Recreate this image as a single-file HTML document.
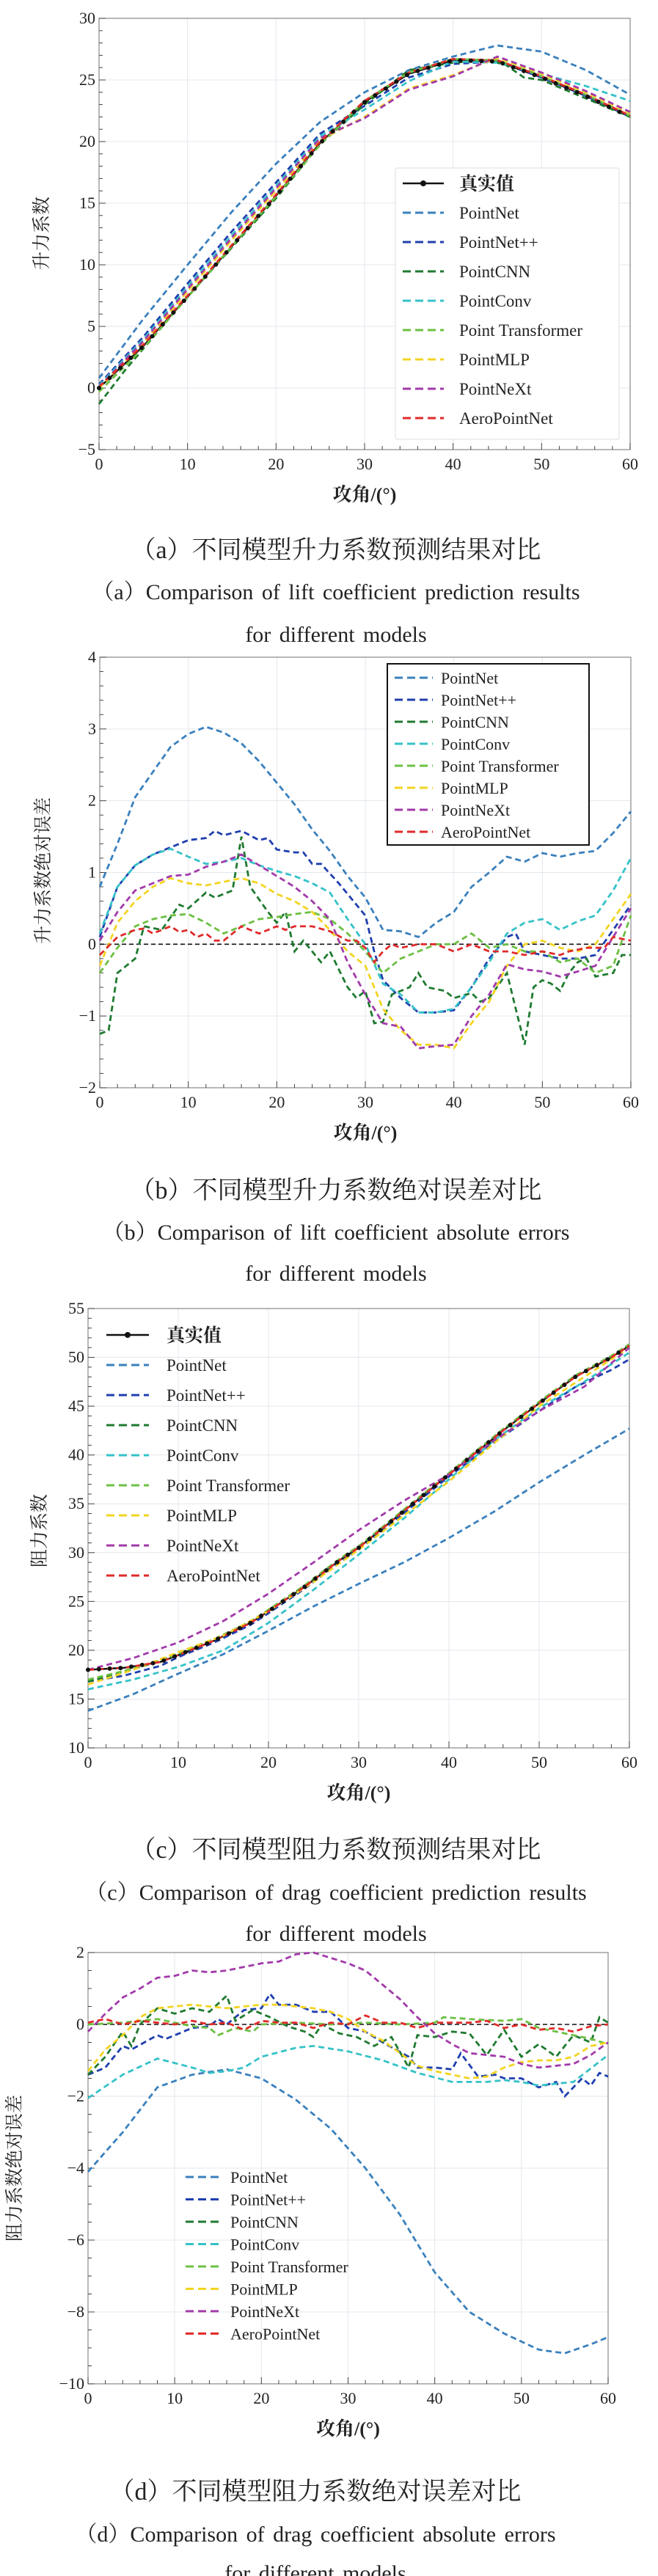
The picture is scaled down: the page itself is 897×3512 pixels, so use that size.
<!DOCTYPE html>
<html><head><meta charset="utf-8">
<style>
body{margin:0;background:#fff;width:897px;height:3512px;overflow:hidden;}
svg{position:absolute;left:0;top:0;}
text{font-family:"Liberation Serif","Noto Serif CJK SC",serif;fill:#222;}
</style></head><body>
<svg id="s" width="897" height="3512" xmlns="http://www.w3.org/2000/svg"></svg>
<script>
const S=document.getElementById('s');let H='';
const C={pn:'#3a80bd',pnpp:'#1f3fae',cnn:'#1f7a30',conv:'#35c2c8',pt:'#6cc043',mlp:'#f3d422',nxt:'#a23aaa',aero:'#e02a2a'};
const NAMES=[['pn','PointNet'],['pnpp','PointNet++'],['cnn','PointCNN'],['conv','PointConv'],['pt','Point Transformer'],['mlp','PointMLP'],['nxt','PointNeXt'],['aero','AeroPointNet']];
function P(a){const r=[];for(let i=0;i<a.length;i+=2)r.push([a[i],a[i+1]]);return r;}
function interp(pts,x){for(let i=0;i<pts.length-1;i++){if(x>=pts[i][0]&&x<=pts[i+1][0]){const t=(x-pts[i][0])/(pts[i+1][0]-pts[i][0]);return pts[i][1]+t*(pts[i+1][1]-pts[i][1]);}}return pts[pts.length-1][1];}
function shift(pts,f){return pts.map(p=>[p[0],p[1]+f(p[0])]);}
function chart(o){
 const L=o.L,R=o.R,T=o.T,B=o.B;const X=x=>L+(x/60)*(R-L);const Y=y=>B-(y-o.y0)/(o.y1-o.y0)*(B-T);
 for(let x=0;x<=60;x+=10)H+=`<line x1="${X(x)}" y1="${T}" x2="${X(x)}" y2="${B}" stroke="#e3e7ec" stroke-width="1"/>`;
 for(let y=o.y0;y<=o.y1;y+=o.dy)H+=`<line x1="${L}" y1="${Y(y)}" x2="${R}" y2="${Y(y)}" stroke="#e3e7ec" stroke-width="1"/>`;
 H+=`<rect x="${L}" y="${T}" width="${R-L}" height="${B-T}" fill="none" stroke="#888" stroke-width="1.2"/>`;
 for(let x=0;x<=60;x+=2){const maj=x%10==0;H+=`<line x1="${X(x)}" y1="${B}" x2="${X(x)}" y2="${B-(maj?9:5)}" stroke="#444" stroke-width="1"/>`;}
 const md=o.dy/o.minor;for(let i=0;;i++){const y=o.y0+i*md;if(y>o.y1+1e-9)break;const maj=Math.abs(((y-o.y0)/o.dy)-Math.round((y-o.y0)/o.dy))<1e-6;H+=`<line x1="${L}" y1="${Y(y)}" x2="${L+(maj?9:5)}" y2="${Y(y)}" stroke="#444" stroke-width="1"/>`;}
 for(let x=0;x<=60;x+=10)H+=`<text x="${X(x)}" y="${B+27}" font-size="22" text-anchor="middle">${x}</text>`;
 for(let y=o.y0;y<=o.y1;y+=o.dy)H+=`<text x="${L-5}" y="${Y(y)+7}" font-size="22" text-anchor="end">${y<0?'−'+(-y):y}</text>`;
 H+=`<text x="${(L+R)/2}" y="${B+70}" font-size="26" text-anchor="middle" font-weight="bold">攻角/(°)</text>`;
 H+=`<text transform="translate(${o.ylx},${o.yly}) rotate(-90)" font-size="25" text-anchor="middle">${o.ylab}</text>`;
 if(o.zero)H+=`<line x1="${L}" y1="${Y(0)}" x2="${R}" y2="${Y(0)}" stroke="#111" stroke-width="1.6" stroke-dasharray="6,4"/>`;
 const path=pts=>{let d='';for(let x=0;x<=60;x+=0.5){d+=(x?'L':'M')+X(x).toFixed(1)+','+Y(interp(pts,x)).toFixed(1);}return d;};
 if(o.truth){H+=`<path d="${path(o.truth)}" fill="none" stroke="#111" stroke-width="2.4"/>`;}
 const order=['pn','pnpp','cnn','conv','pt','mlp','nxt','aero'];
 for(const k of order)H+=`<path d="${path(o.s[k])}" fill="none" stroke="${C[k]}" stroke-width="2.8" stroke-dasharray="8,5"/>`;
 if(o.truth)for(let x=0;x<=60;x+=1.2)H+=`<circle cx="${X(x)}" cy="${Y(interp(o.truth,x))}" r="3" fill="#111"/>`;
}
function legend(o){
 if(o.box)H+=`<rect x="${o.bx}" y="${o.by}" width="${o.bw}" height="${o.bh}" fill="#fff" stroke="${o.box}" stroke-width="${o.box=='#111'?2:1}" rx="${o.box=='#111'?0:3}"/>`;
 let i=0;
 if(o.truth){const y=o.y0;H+=`<line x1="${o.lx1}" y1="${y}" x2="${o.lx2}" y2="${y}" stroke="#111" stroke-width="2.6"/><circle cx="${(o.lx1+o.lx2)/2}" cy="${y}" r="4" fill="#111"/><text x="${o.tx}" y="${y+9}" font-size="${o.fs+2}" font-weight="bold">真实值</text>`;i=1;}
 for(const [k,n] of NAMES){const y=o.y0+i*o.dy;H+=`<line x1="${o.lx1}" y1="${y}" x2="${o.lx2}" y2="${y}" stroke="${C[k]}" stroke-width="3" stroke-dasharray="11,6"/><text x="${o.tx}" y="${y+8}" font-size="${o.fs}">${n}</text>`;i++;}
}
function cap(y1,t1,y2,t2,y3,t3,cx){H+=`<text x="${cx}" y="${y1}" font-size="34" text-anchor="middle">${t1}</text><text x="${cx}" y="${y2}" font-size="30" text-anchor="middle" word-spacing="4">${t2}</text><text x="${cx}" y="${y3}" font-size="30" text-anchor="middle" word-spacing="4">${t3}</text>`;}

const ta=P([0,0,5,3.4,10,7.4,15,11.5,20,15.6,25,19.9,30,23.2,35,25.5,40,26.6,45,26.5,50,25.2,55,23.7,60,22]);
chart({L:135,R:859,T:25,B:613,y0:-5,y1:30,dy:5,minor:5,ylab:'升力系数',ylx:65,yly:318,truth:ta,
 s:{pn:P([0,0.8,5,5.6,10,10,15,14.3,20,18.2,25,21.6,30,24,35,25.8,40,26.9,45,27.8,50,27.3,55,25.8,60,23.8]),
 pnpp:shift(ta,x=>x<30?0.9*Math.sin(Math.PI*x/30)+0.3:-(x<45?0.3:0)),
 cnn:P([0,-1.3,3,1.5,10,7.4,20,15.4,25,19.8,30,23,35,25.8,40,26.4,44,26.6,46,26.2,48,25.2,50,25,55,23.5,60,22]),
 conv:shift(ta,x=>x<30?0.7*Math.sin(Math.PI*x/30)+0.2:(x<40?-0.6:(x<50?-0.1:1.0*(x-50)/10+0.3))),
 pt:shift(ta,x=>x<30?0.3*Math.sin(Math.PI*x/30)-0.3:0.1),
 mlp:shift(ta,x=>x<30?0.5*Math.sin(Math.PI*x/30):(x<45?-1.2:0.3)),
 nxt:shift(ta,x=>x<30?0.6*Math.sin(Math.PI*x/30)+0.1:(x<45?-1.3:0.4)),
 aero:shift(ta,x=>0.1)}});
legend({box:'#ddd',bx:539,by:229,bw:305,bh:370,truth:1,y0:250,dy:40,lx1:549,lx2:605,tx:626,fs:23});
cap(761,'（a）不同模型升力系数预测结果对比',817,'（a）Comparison of lift coefficient prediction results',875,'for different models',458);

chart({L:136,R:860,T:896,B:1483,y0:-2,y1:4,dy:1,minor:5,ylab:'升力系数绝对误差',ylx:67,yly:1187,zero:1,
 s:{pn:P([0,0.8,2,1.4,4,2.05,6,2.4,8,2.75,10,2.93,12,3.03,14,2.95,16,2.8,18,2.55,20,2.25,22,1.95,24,1.6,26,1.3,28,0.95,30,0.65,32,0.2,34,0.18,36,0.1,38,0.3,40,0.45,42,0.8,44,1.0,46,1.22,48,1.15,50,1.27,52,1.22,54,1.27,56,1.3,58,1.55,60,1.85]),
 pnpp:P([0,0.1,2,0.8,4,1.1,6,1.25,8,1.35,10,1.45,12,1.48,13,1.58,14,1.52,16,1.58,18,1.45,19,1.48,20,1.32,22,1.28,23,1.28,24,1.12,25,1.12,27,0.85,29,0.55,30,0.4,31,-0.1,32,-0.5,34,-0.75,36,-0.95,38,-0.95,40,-0.92,42,-0.6,44,-0.2,46,0.1,47,0.15,48,-0.1,50,-0.15,52,-0.2,54,-0.2,56,-0.15,58,0.2,60,0.55]),
 cnn:P([0,-1.25,1,-1.2,2,-0.4,4,-0.2,5,0.25,7,0.2,9,0.55,10,0.5,12,0.72,13,0.65,15,0.75,16,1.5,17,0.8,19,0.45,20,0.3,21,0.45,22,-0.1,23,0.05,25,-0.25,26,-0.1,28,-0.6,29,-0.75,30,-0.65,31,-1.1,32,-1.08,33,-0.7,35,-0.6,36,-0.4,37,-0.6,39,-0.65,40,-0.75,42,-0.68,43,-0.8,44,-0.75,46,-0.4,47,-0.9,48,-1.4,49,-0.6,50,-0.5,51,-0.55,52,-0.65,53,-0.4,54,-0.25,55,-0.2,56,-0.45,58,-0.4,59,-0.15,60,-0.15]),
 conv:P([0,0.15,2,0.8,4,1.1,6,1.25,8,1.33,10,1.22,12,1.12,14,1.15,16,1.2,18,1.1,20,1.02,22,0.95,24,0.85,26,0.72,28,0.35,30,0.0,32,-0.55,34,-0.7,36,-0.95,38,-0.95,40,-0.9,42,-0.6,44,-0.25,46,0.15,48,0.3,50,0.35,52,0.2,54,0.32,56,0.4,58,0.75,60,1.2]),
 pt:P([0,-0.4,2,-0.05,4,0.25,6,0.35,8,0.4,10,0.42,12,0.3,14,0.15,16,0.25,18,0.35,20,0.38,22,0.42,24,0.45,26,0.35,28,0.15,30,-0.1,32,-0.4,34,-0.2,36,-0.1,38,0.0,40,0.0,42,0.15,44,-0.05,46,0.0,48,-0.1,50,-0.1,52,-0.25,54,-0.2,56,-0.4,58,-0.3,60,0.4]),
 mlp:P([0,-0.3,2,0.3,4,0.6,6,0.8,8,0.92,10,0.85,12,0.82,14,0.87,16,0.92,18,0.85,20,0.7,22,0.6,24,0.45,26,0.2,28,-0.1,30,-0.3,32,-0.9,34,-1.2,36,-1.4,38,-1.4,40,-1.45,42,-1.1,44,-0.8,46,-0.3,48,0.0,50,0.05,52,-0.05,54,-0.1,56,0.0,58,0.35,60,0.7]),
 nxt:P([0,0.05,2,0.45,4,0.75,6,0.85,8,0.95,10,0.97,12,1.08,14,1.15,16,1.25,18,1.1,20,0.95,22,0.8,24,0.6,26,0.35,28,-0.25,30,-0.7,32,-1.1,34,-1.15,36,-1.45,38,-1.42,40,-1.4,42,-1.0,44,-0.7,46,-0.28,48,-0.35,50,-0.38,52,-0.45,54,-0.38,56,-0.3,58,0.1,60,0.5]),
 aero:P([0,-0.15,2,0.1,4,0.2,5,0.22,6,0.15,8,0.25,9,0.17,10,0.2,11,0.1,12,0.15,13,0.05,14,0.05,16,0.25,18,0.15,20,0.25,21,0.2,22,0.25,24,0.25,26,0.18,28,0.05,29,0.05,30,-0.05,31,-0.25,32,-0.1,33,0.0,34,-0.05,36,0.0,38,0.0,40,-0.1,42,0.0,44,-0.1,46,-0.1,48,-0.15,50,-0.1,52,-0.15,53,-0.1,55,-0.05,57,-0.05,58,0.1,60,0.05])}});
legend({box:'#111',bx:528,by:905,bw:275,bh:247,y0:924,dy:30,lx1:538,lx2:590,tx:601,fs:22});
cap(1634,'（b）不同模型升力系数绝对误差对比',1690,'（b）Comparison of lift coefficient absolute errors',1746,'for different models',458);

const tc=P([0,18,4,18.2,8,18.8,10,19.5,14,21,18,22.8,20,24,24,26.5,28,29.3,30,30.5,34,33.5,36,35,40,38,42,39.5,46,42.5,50,45.3,54,48,58,50,60,51.2]);
chart({L:120,R:858,T:1784,B:2383,y0:10,y1:55,dy:5,minor:5,ylab:'阻力系数',ylx:62,yly:2087,truth:tc,
 s:{pn:P([0,13.8,5,15.5,10,17.6,15,19.6,20,22,25,24.5,30,26.8,35,29,40,31.5,45,34.2,50,37.2,55,40,60,42.7]),
 pnpp:shift(tc,x=>x<10?-1.2+x*0.1:(x<40?-0.2:-(x-40)*0.06-0.2)),
 cnn:shift(tc,x=>x<6?-1.2+x*0.2:0.1),
 conv:P([0,16,5,17,10,18.3,15,20,20,22.8,25,26.2,30,29.8,35,33.5,40,37.5,45,41.5,50,44.8,55,47.5,60,50.5]),
 pt:shift(tc,x=>x<6?-1+x*0.17:0.15),
 mlp:P([0,16.5,5,18,10,19.8,15,21.5,20,24,25,27,30,30.3,35,33.8,40,37.3,45,41.2,50,45,55,48,60,51]),
 nxt:P([0,18,5,19.2,10,20.8,15,23,20,25.8,25,29,30,32.3,35,35.3,40,38,45,41.5,50,44.5,55,47,60,51]),
 aero:shift(tc,x=>0)}});
legend({truth:1,y0:1820,dy:41,lx1:145,lx2:203,tx:227,fs:23});
cap(2533,'（c）不同模型阻力系数预测结果对比',2590,'（c）Comparison of drag coefficient prediction results',2646,'for different models',458);

chart({L:120,R:829,T:2662,B:3250,y0:-10,y1:2,dy:2,minor:4,ylab:'阻力系数绝对误差',ylx:28,yly:2956,zero:1,
 s:{pn:P([0,-4.1,4,-3,8,-1.75,12,-1.4,16,-1.25,20,-1.5,24,-2.1,28,-2.9,32,-4.0,36,-5.3,40,-6.9,44,-8.0,48,-8.6,52,-9.05,55,-9.15,58,-8.9,60,-8.7]),
 pnpp:P([0,-1.4,2,-1.2,4,-0.6,5,-0.7,8,-0.3,9,-0.4,10,-0.3,12,-0.1,14,-0.05,15,0.15,16,0.0,18,0.4,20,0.45,21,0.85,22,0.55,24,0.55,26,0.35,28,0.35,30,-0.1,32,-0.2,34,-0.5,37,-0.9,38,-1.2,40,-1.2,42,-1.25,43,-0.8,45,-1.45,47,-1.4,48,-1.5,50,-1.5,52,-1.75,54,-1.6,55,-2.0,57,-1.5,58,-1.7,59,-1.35,60,-1.45]),
 cnn:P([0,-1.4,2,-0.9,4,-0.2,5,-0.6,6,0.0,8,0.45,10,0.3,12,0.45,14,0.35,16,0.8,17,0.1,19,0.4,21,0.2,23,-0.05,25,-0.2,26,-0.35,27,0.0,29,-0.25,31,-0.35,33,-0.6,35,-0.35,37,-1.2,38,-0.3,40,-0.35,42,-0.2,44,-0.25,46,-0.85,48,-0.15,50,-0.9,52,-0.55,54,-0.9,56,-0.3,58,-0.5,59,0.2,60,0.05]),
 conv:P([0,-2.05,4,-1.4,8,-0.95,12,-1.2,14,-1.35,16,-1.3,18,-1.2,20,-0.9,24,-0.65,26,-0.6,30,-0.75,34,-1.0,38,-1.35,42,-1.6,46,-1.6,48,-1.55,50,-1.6,52,-1.7,56,-1.6,60,-0.85]),
 pt:P([0,0,4,0.05,8,0.15,12,-0.05,14,-0.1,15,-0.3,17,-0.1,19,-0.2,20,0.0,24,0.05,28,0.0,32,0.05,36,0.0,40,0.05,41,0.2,44,0.15,48,0.1,50,0.15,52,-0.1,56,-0.3,58,-0.4,60,-0.55]),
 mlp:P([0,-1.3,2,-0.7,4,-0.3,6,0.2,8,0.45,10,0.5,12,0.55,14,0.5,16,0.45,18,0.5,20,0.55,22,0.55,24,0.5,26,0.45,28,0.35,30,0.15,32,-0.2,34,-0.45,36,-0.8,38,-1.15,40,-1.3,42,-1.4,44,-1.5,46,-1.45,48,-1.2,50,-1.05,52,-1.0,54,-1.0,56,-0.9,58,-0.6,60,-0.5]),
 nxt:P([0,-0.2,2,0.3,4,0.75,6,1.0,8,1.3,10,1.35,12,1.5,14,1.45,16,1.5,18,1.6,20,1.7,22,1.75,24,1.95,26,2.0,28,1.85,30,1.7,32,1.5,34,1.1,36,0.7,38,0.2,40,-0.25,42,-0.55,44,-0.8,46,-0.85,48,-0.9,50,-1.1,52,-1.2,54,-1.15,56,-1.1,58,-0.85,60,-0.5]),
 aero:P([0,0.05,2,0.15,4,0.0,6,0.1,8,0.05,10,0.0,12,0.1,14,0.0,16,0.05,18,-0.15,20,0.1,22,0.05,24,0.05,26,-0.1,28,0.05,30,0.0,32,0.25,34,0.05,36,0.05,38,-0.1,40,0.05,44,0.05,46,0.1,48,-0.1,50,0.0,52,-0.15,54,-0.1,56,-0.2,58,-0.05,60,0.0])}});
legend({y0:2968,dy:30.5,lx1:253,lx2:304,tx:314,fs:22});
cap(3408,'（d）不同模型阻力系数绝对误差对比',3465,'（d）Comparison of drag coefficient absolute errors',3518,'for different models',430);
S.innerHTML=H;
</script>
</body></html>
